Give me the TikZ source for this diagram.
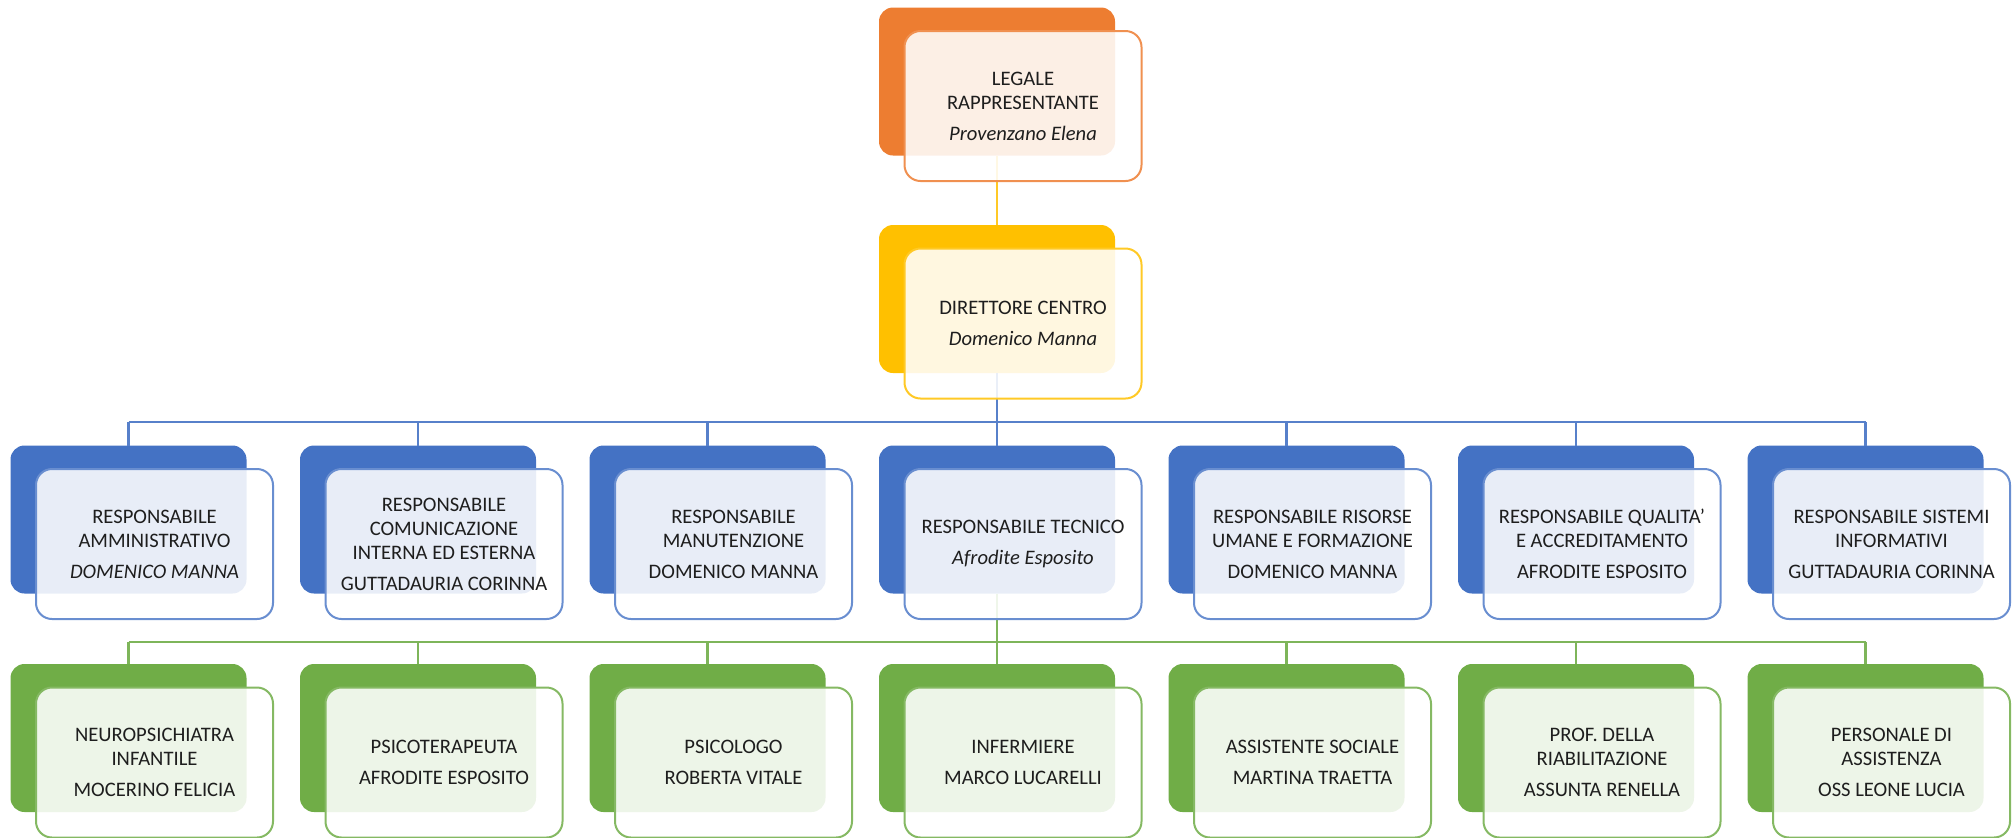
\documentclass[tikz,border=0pt]{standalone}
\usepackage{fontspec}
\setmainfont{Carlito}

\definecolor{orangeA}{HTML}{ED7D31}
\definecolor{yellowA}{HTML}{FFC000}
\definecolor{blueA}{HTML}{4472C4}
\definecolor{greenA}{HTML}{70AD47}
\definecolor{txtA}{HTML}{1E1E1E}

\tikzset{every picture/.style={line width=0.75pt}}

\begin{document}
\begin{tikzpicture}[x=0.5pt,y=0.5pt,yscale=-1,xscale=1,
	backbox/.style={rounded corners=7pt, minimum width=118pt, minimum height=74pt, inner sep=0pt, outer sep=0pt},
	frontbox/.style={draw, line width=1pt, rounded corners=8pt, fill=white, fill opacity=0.88, text opacity=1, minimum width=118.5pt, minimum height=75pt, inner sep=0pt, outer sep=0pt, align=center, text=txtA, font=\fontsize{10.3}{12}\selectfont},
	link/.style={line width=1.25pt}]
	\useasboundingbox (0,0) rectangle (2013,837);
	
	%Shapes: back boxes
	\node [backbox, fill=orangeA] (lr) at (997,81.5) {};
	\node [backbox, fill=yellowA] (dc) at (997,299) {};
	\foreach \i/\x in {1/128.5,2/418,3/707.5,4/997,5/1286.5,6/1576,7/1865.5} {
		\node [backbox, fill=blueA] (b\i) at (\x,519.5) {};
		\node [backbox, fill=greenA] (g\i) at (\x,738) {};
	}
	
	%Connectors
	\coordinate (busB) at (997,422);
	\coordinate (busG) at (997,642);
	\draw [link, yellowA!85!white] (lr.south) -- (dc.north);
	\draw [link, blueA!90!white] (dc.south) -- (busB);
	\draw [link, blueA!90!white] (b1.north |- busB) -- (b7.north |- busB);
	\draw [link, greenA!90!white] (b4.south) -- (busG);
	\draw [link, greenA!90!white] (g1.north |- busG) -- (g7.north |- busG);
	\foreach \i in {1,...,7} {
		\draw [link, blueA!90!white] (b\i.north |- busB) -- (b\i.north);
		\draw [link, greenA!90!white] (g\i.north |- busG) -- (g\i.north);
	}
	
	% Text Node
	\node [frontbox, draw=orangeA!85!white] (lr-t) at ([shift={(26,24.5)}]lr.center) {LEGALE\\RAPPRESENTANTE\\[3.5pt]\textit{Provenzano Elena}};
	% Text Node
	\node [frontbox, draw=yellowA!85!white] (dc-t) at ([shift={(26,24.5)}]dc.center) {DIRETTORE CENTRO\\[3.5pt]\textit{Domenico Manna}};
	
	% Text Node
	\node [frontbox, draw=blueA!80!white] (b1-t) at ([shift={(26,24.5)}]b1.center) {RESPONSABILE\\AMMINISTRATIVO\\[3.5pt]\textit{DOMENICO MANNA}};
	% Text Node
	\node [frontbox, draw=blueA!80!white] (b2-t) at ([shift={(26,24.5)}]b2.center) {RESPONSABILE\\COMUNICAZIONE\\INTERNA ED ESTERNA\\[3.5pt]GUTTADAURIA CORINNA};
	% Text Node
	\node [frontbox, draw=blueA!80!white] (b3-t) at ([shift={(26,24.5)}]b3.center) {RESPONSABILE\\MANUTENZIONE\\[3.5pt]DOMENICO MANNA};
	% Text Node
	\node [frontbox, draw=blueA!80!white] (b4-t) at ([shift={(26,24.5)}]b4.center) {RESPONSABILE TECNICO\\[3.5pt]\textit{Afrodite Esposito}};
	% Text Node
	\node [frontbox, draw=blueA!80!white] (b5-t) at ([shift={(26,24.5)}]b5.center) {RESPONSABILE RISORSE\\UMANE E FORMAZIONE\\[3.5pt]DOMENICO MANNA};
	% Text Node
	\node [frontbox, draw=blueA!80!white] (b6-t) at ([shift={(26,24.5)}]b6.center) {RESPONSABILE QUALITA’\\E ACCREDITAMENTO\\[3.5pt]AFRODITE ESPOSITO};
	% Text Node
	\node [frontbox, draw=blueA!80!white] (b7-t) at ([shift={(26,24.5)}]b7.center) {RESPONSABILE SISTEMI\\INFORMATIVI\\[3.5pt]GUTTADAURIA CORINNA};
	
	% Text Node
	\node [frontbox, draw=greenA!85!white] (g1-t) at ([shift={(26,24.5)}]g1.center) {NEUROPSICHIATRA\\INFANTILE\\[3.5pt]MOCERINO FELICIA};
	% Text Node
	\node [frontbox, draw=greenA!85!white] (g2-t) at ([shift={(26,24.5)}]g2.center) {PSICOTERAPEUTA\\[3.5pt]AFRODITE ESPOSITO};
	% Text Node
	\node [frontbox, draw=greenA!85!white] (g3-t) at ([shift={(26,24.5)}]g3.center) {PSICOLOGO\\[3.5pt]ROBERTA VITALE};
	% Text Node
	\node [frontbox, draw=greenA!85!white] (g4-t) at ([shift={(26,24.5)}]g4.center) {INFERMIERE\\[3.5pt]MARCO LUCARELLI};
	% Text Node
	\node [frontbox, draw=greenA!85!white] (g5-t) at ([shift={(26,24.5)}]g5.center) {ASSISTENTE SOCIALE\\[3.5pt]MARTINA TRAETTA};
	% Text Node
	\node [frontbox, draw=greenA!85!white] (g6-t) at ([shift={(26,24.5)}]g6.center) {PROF. DELLA\\RIABILITAZIONE\\[3.5pt]ASSUNTA RENELLA};
	% Text Node
	\node [frontbox, draw=greenA!85!white] (g7-t) at ([shift={(26,24.5)}]g7.center) {PERSONALE DI\\ASSISTENZA\\[3.5pt]OSS LEONE LUCIA};
	
\end{tikzpicture}
\end{document}
